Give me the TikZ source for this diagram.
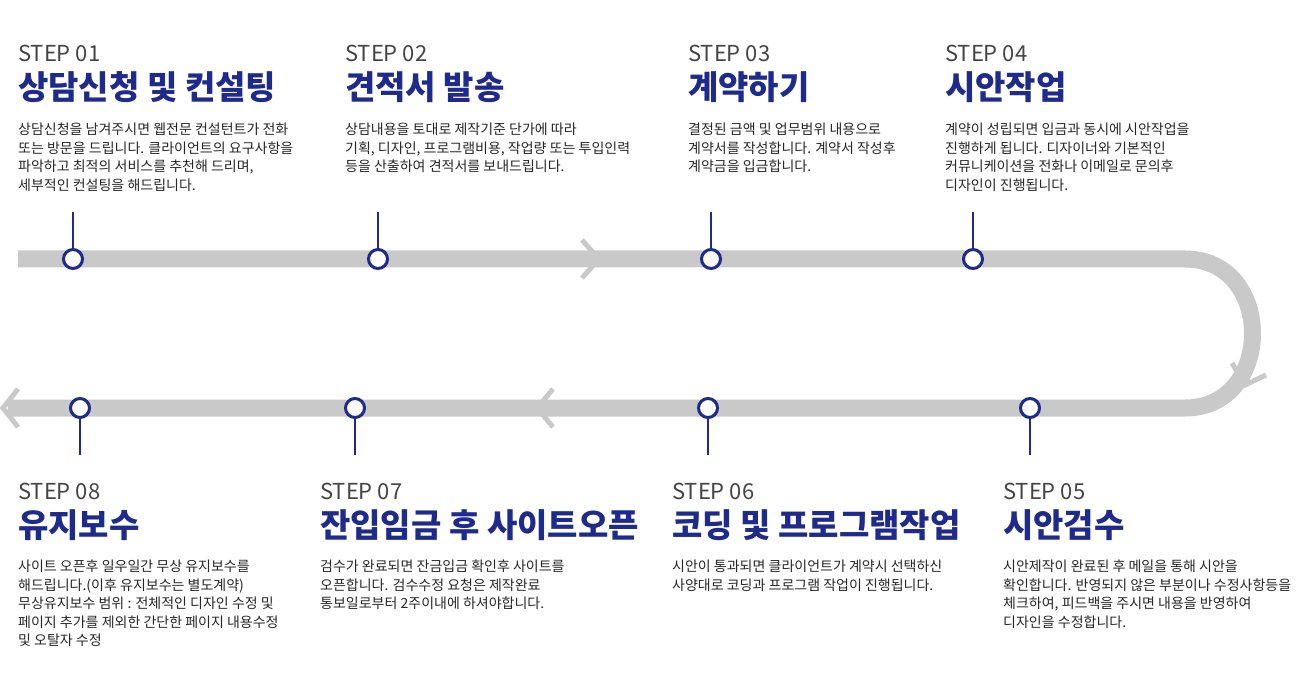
\documentclass[tikz,border=0pt]{standalone}
\usepackage{fontspec}
\setmainfont{Noto Sans CJK KR}
\usetikzlibrary{positioning}
\definecolor{navy}{HTML}{1E2A8C}
\definecolor{band}{HTML}{C9C9C9}
\definecolor{steptxt}{HTML}{444444}
\begin{document}
\begin{tikzpicture}[x=1pt, y=-1pt,
	steplbl/.style={anchor=north west, inner sep=0pt, text=steptxt, font=\fontsize{22}{24}\selectfont},
	ttl/.style={anchor=north west, inner sep=0pt, text=navy, font=\fontsize{33}{36}\selectfont\bfseries},
	body/.style={anchor=north west, inner sep=0pt, align=left, text=black!85, font=\fontsize{14}{18.5}\selectfont},
	dot/.style={circle, draw=navy, fill=white, line width=3pt, minimum size=19pt, inner sep=0pt},
	stem/.style={draw=navy, line width=1.4pt},
	chev/.style={draw=band, line width=5pt}]

	\useasboundingbox (0,0) rectangle (1300,700);

	% band
	\draw[band, line width=17pt] (18,259) -- (1185,259) .. controls (1275,259) and (1275,408) .. (1185,408) -- (8,408);
	\draw[chev] (582,240) -- (599,259) -- (582,278);
	\draw[chev] (553,389) -- (537,408) -- (553,427);
	\draw[chev] (18,389) -- (3,408) -- (18,427);
	\draw[chev] (1232,363) -- (1245,385) -- (1266,375);

	% top steps
	\foreach \x/\cx/\n/\t/\b in {
		18/73/01/상담신청 및 컨설팅/{상담신청을 남겨주시면 웹전문 컨설턴트가 전화\\또는 방문을 드립니다. 클라이언트의 요구사항을\\파악하고 최적의 서비스를 추천해 드리며,\\세부적인 컨설팅을 해드립니다.},
		345/378/02/견적서 발송/{상담내용을 토대로 제작기준 단가에 따라\\기획, 디자인, 프로그램비용, 작업량 또는 투입인력\\등을 산출하여 견적서를 보내드립니다.},
		688/711/03/계약하기/{결정된 금액 및 업무범위 내용으로\\계약서를 작성합니다. 계약서 작성후\\계약금을 입금합니다.},
		945/973/04/시안작업/{계약이 성립되면 입금과 동시에 시안작업을\\진행하게 됩니다. 디자이너와 기본적인\\커뮤니케이션을 전화나 이메일로 문의후\\디자인이 진행됩니다.}} {
		\node[steplbl] (s\n) at (\x,45) {STEP \n};
		\node[ttl, below=9pt of s\n.south west, anchor=north west] (t\n) {\t};
		\node[body] (b\n) at (\x,123) {\b};
		\coordinate (k\n) at (\cx,212);
		\node[dot] (d\n) at (\cx,259) {};
		\draw[stem] (k\n) -- (d\n);
	}

	% bottom steps
	\foreach \x/\cx/\n/\t/\b in {
		1003/1030/05/시안검수/{시안제작이 완료된 후 메일을 통해 시안을\\확인합니다. 반영되지 않은 부분이나 수정사항등을\\체크하여, 피드백을 주시면 내용을 반영하여\\디자인을 수정합니다.},
		672/708/06/코딩 및 프로그램작업/{시안이 통과되면 클라이언트가 계약시 선택하신\\사양대로 코딩과 프로그램 작업이 진행됩니다.},
		320/355/07/잔입임금 후 사이트오픈/{검수가 완료되면 잔금입금 확인후 사이트를\\오픈합니다. 검수수정 요청은 제작완료\\통보일로부터 2주이내에 하셔야합니다.},
		18/80/08/유지보수/{사이트 오픈후 일우일간 무상 유지보수를\\해드립니다.(이후 유지보수는 별도계약)\\무상유지보수 범위 : 전체적인 디자인 수정 및\\페이지 추가를 제외한 간단한 페이지 내용수정\\및 오탈자 수정}} {
		\node[steplbl] (s\n) at (\x,483) {STEP \n};
		\node[ttl, below=9pt of s\n.south west, anchor=north west] (t\n) {\t};
		\node[body] (b\n) at (\x,560) {\b};
		\coordinate (k\n) at (\cx,455);
		\node[dot] (d\n) at (\cx,408) {};
		\draw[stem] (d\n) -- (k\n);
	}

\end{tikzpicture}
\end{document}
